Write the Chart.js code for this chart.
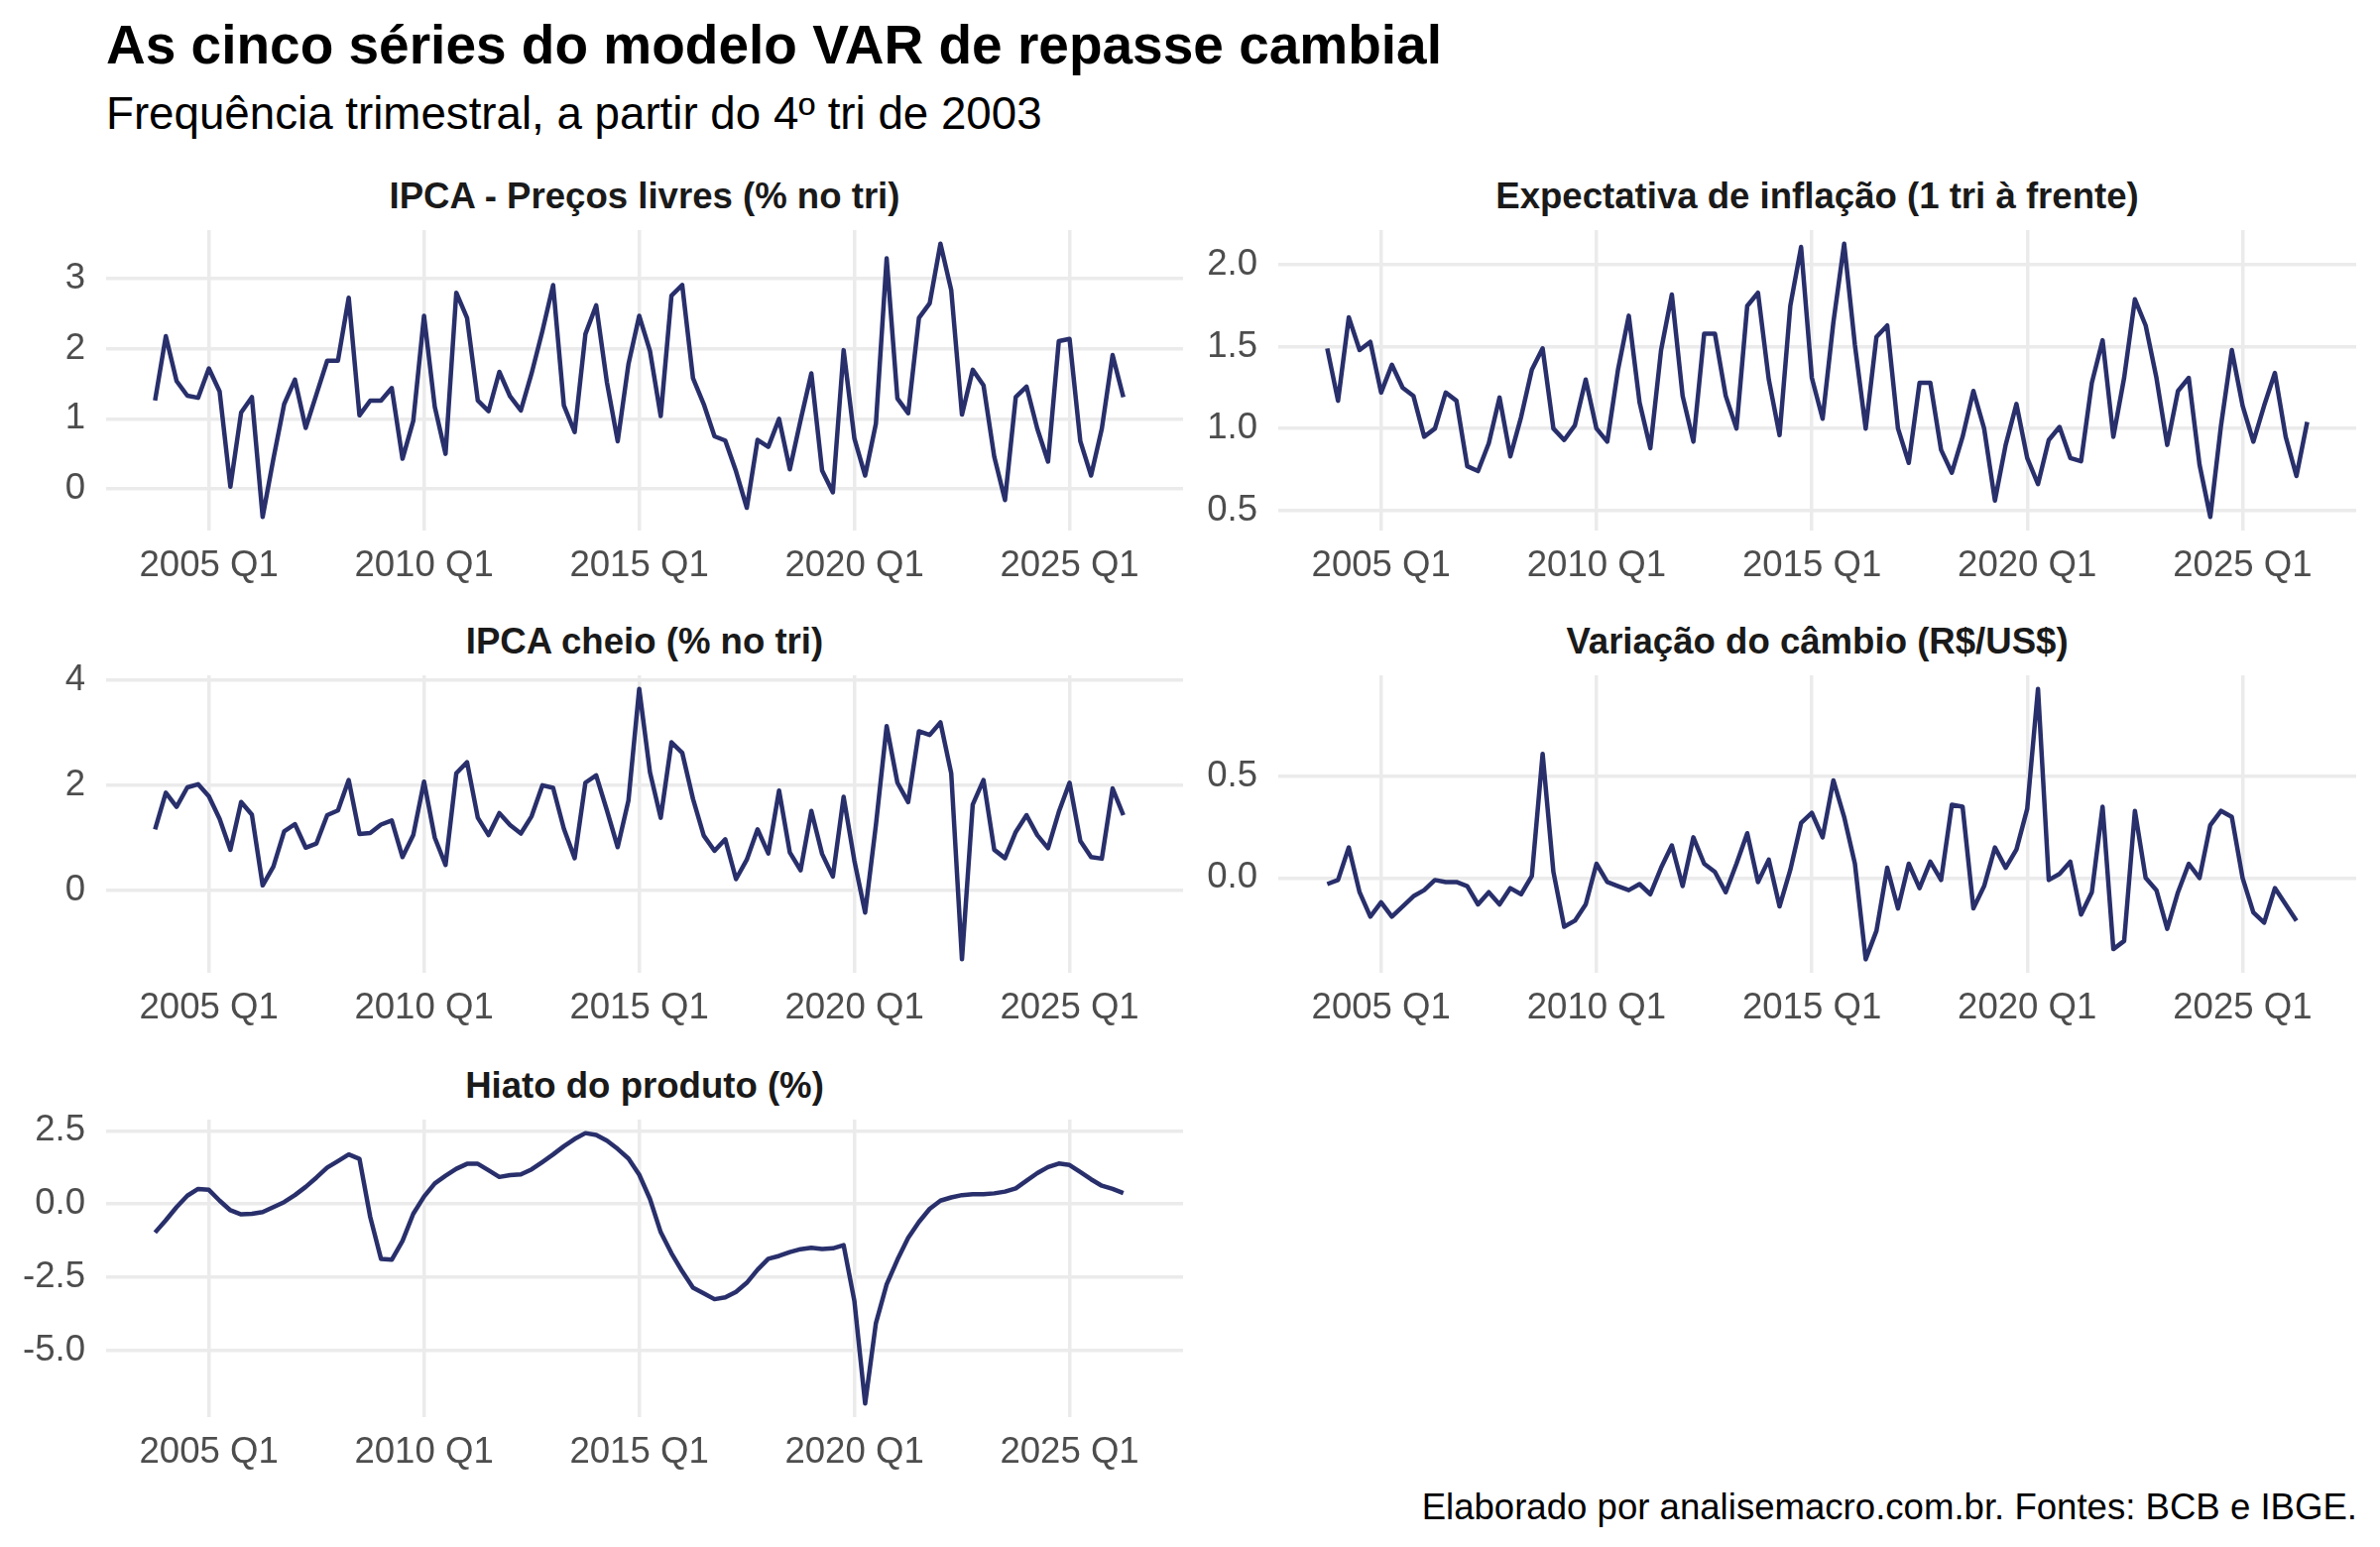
<!DOCTYPE html>
<html lang="pt-BR">
<head>
<meta charset="utf-8">
<title>As cinco séries do modelo VAR de repasse cambial</title>
<script src="https://cdn.jsdelivr.net/npm/chart.js@4.4.1/dist/chart.umd.min.js"></script>
<style>
  html, body { margin: 0; padding: 0; background: #fff; }
  body { width: 2400px; height: 1560px; position: relative; overflow: hidden;
         font-family: "Liberation Sans", Arial, sans-serif; }
  .txt { position: absolute; white-space: nowrap; line-height: 1; }
  #title { left: 107px; top: 18px; font-size: 55px; font-weight: bold; color: #000; }
  #subtitle { left: 107px; top: 92px; font-size: 45.7px; color: #000; }
  #caption { right: 23px; top: 1502px; font-size: 36.6px; color: #000; }
  .strip { position: absolute; text-align: center; font-size: 36.6px; font-weight: bold;
           color: #1a1a1a; line-height: 1; white-space: nowrap; }
  canvas { position: absolute; }
</style>
</head>
<body>
<div id="title" class="txt">As cinco séries do modelo VAR de repasse cambial</div>
<div id="subtitle" class="txt">Frequência trimestral, a partir do 4º tri de 2003</div>
<div id="caption" class="txt">Elaborado por analisemacro.com.br. Fontes: BCB e IBGE.</div>
<div id="panels"></div>

<script>
// Quarters 2003 Q4 .. 2026 Q3 (the expectation series runs one quarter further)
const quarters = [
  '2003 Q4',
  '2004 Q1', '2004 Q2', '2004 Q3', '2004 Q4',
  '2005 Q1', '2005 Q2', '2005 Q3', '2005 Q4',
  '2006 Q1', '2006 Q2', '2006 Q3', '2006 Q4',
  '2007 Q1', '2007 Q2', '2007 Q3', '2007 Q4',
  '2008 Q1', '2008 Q2', '2008 Q3', '2008 Q4',
  '2009 Q1', '2009 Q2', '2009 Q3', '2009 Q4',
  '2010 Q1', '2010 Q2', '2010 Q3', '2010 Q4',
  '2011 Q1', '2011 Q2', '2011 Q3', '2011 Q4',
  '2012 Q1', '2012 Q2', '2012 Q3', '2012 Q4',
  '2013 Q1', '2013 Q2', '2013 Q3', '2013 Q4',
  '2014 Q1', '2014 Q2', '2014 Q3', '2014 Q4',
  '2015 Q1', '2015 Q2', '2015 Q3', '2015 Q4',
  '2016 Q1', '2016 Q2', '2016 Q3', '2016 Q4',
  '2017 Q1', '2017 Q2', '2017 Q3', '2017 Q4',
  '2018 Q1', '2018 Q2', '2018 Q3', '2018 Q4',
  '2019 Q1', '2019 Q2', '2019 Q3', '2019 Q4',
  '2020 Q1', '2020 Q2', '2020 Q3', '2020 Q4',
  '2021 Q1', '2021 Q2', '2021 Q3', '2021 Q4',
  '2022 Q1', '2022 Q2', '2022 Q3', '2022 Q4',
  '2023 Q1', '2023 Q2', '2023 Q3', '2023 Q4',
  '2024 Q1', '2024 Q2', '2024 Q3', '2024 Q4',
  '2025 Q1', '2025 Q2', '2025 Q3', '2025 Q4',
  '2026 Q1', '2026 Q2', '2026 Q3'
];

const ipcaLivres = [
  1.26, 2.18, 1.54, 1.33, 1.30, 1.72, 1.39, 0.03, 1.09, 1.31,
  -0.40, 0.43, 1.21, 1.56, 0.87, 1.35, 1.83, 1.83, 2.73, 1.05,
  1.26, 1.26, 1.44, 0.43, 0.97, 2.47, 1.17, 0.50, 2.80, 2.44,
  1.26, 1.11, 1.67, 1.32, 1.12, 1.65, 2.25, 2.91, 1.19, 0.81,
  2.21, 2.62, 1.52, 0.68, 1.78, 2.47, 1.97, 1.04, 2.76, 2.91,
  1.58, 1.21, 0.75, 0.69, 0.25, -0.27, 0.70, 0.60, 1.00, 0.28,
  0.98, 1.65, 0.26, -0.05, 1.98, 0.72, 0.19, 0.93, 3.29, 1.29,
  1.08, 2.44, 2.65, 3.50, 2.84, 1.06, 1.70, 1.48, 0.46, -0.16,
  1.31, 1.46, 0.86, 0.39, 2.11, 2.14, 0.68, 0.19, 0.86, 1.91, 1.31
];

const expectativa = [
  1.49, 1.17, 1.68, 1.48, 1.53, 1.22, 1.39, 1.25, 1.20, 0.95,
  1.00, 1.22, 1.17, 0.77, 0.74, 0.91, 1.19, 0.83, 1.07, 1.36,
  1.49, 1.00, 0.93, 1.02, 1.30, 1.00, 0.92, 1.36, 1.69, 1.16,
  0.88, 1.48, 1.82, 1.20, 0.92, 1.58, 1.58, 1.20, 1.00, 1.75,
  1.83, 1.30, 0.96, 1.75, 2.11, 1.31, 1.06, 1.65, 2.13, 1.51,
  1.00, 1.56, 1.63, 1.00, 0.79, 1.28, 1.28, 0.87, 0.73, 0.95,
  1.23, 1.00, 0.56, 0.90, 1.15, 0.82, 0.66, 0.93, 1.01, 0.82,
  0.80, 1.28, 1.54, 0.95, 1.31, 1.79, 1.63, 1.31, 0.90, 1.23,
  1.31, 0.78, 0.46, 1.02, 1.48, 1.14, 0.92, 1.14, 1.34, 0.95, 0.71, 1.04
];

const ipcaCheio = [
  1.16, 1.86, 1.59, 1.96, 2.02, 1.79, 1.36, 0.77, 1.68, 1.44,
  0.09, 0.45, 1.12, 1.26, 0.81, 0.89, 1.43, 1.52, 2.10, 1.07,
  1.09, 1.25, 1.33, 0.63, 1.05, 2.07, 1.00, 0.48, 2.23, 2.44,
  1.38, 1.05, 1.47, 1.24, 1.08, 1.41, 2.00, 1.95, 1.17, 0.61,
  2.05, 2.19, 1.52, 0.82, 1.71, 3.84, 2.25, 1.38, 2.82, 2.62,
  1.74, 1.04, 0.75, 0.97, 0.21, 0.58, 1.16, 0.70, 1.90, 0.72,
  0.38, 1.51, 0.69, 0.26, 1.78, 0.56, -0.43, 1.24, 3.13, 2.05,
  1.68, 3.03, 2.96, 3.20, 2.23, -1.32, 1.63, 2.10, 0.77, 0.61,
  1.11, 1.43, 1.05, 0.80, 1.49, 2.05, 0.94, 0.63, 0.60, 1.94, 1.43
];

const cambio = [
  -0.03, -0.01, 0.15, -0.07, -0.19, -0.12, -0.19, -0.14, -0.09, -0.06,
  -0.01, -0.02, -0.02, -0.04, -0.13, -0.07, -0.13, -0.05, -0.08, 0.01,
  0.61, 0.03, -0.24, -0.21, -0.13, 0.07, -0.02, -0.04, -0.06, -0.03,
  -0.08, 0.05, 0.16, -0.04, 0.20, 0.07, 0.03, -0.07, 0.07, 0.22,
  -0.02, 0.09, -0.14, 0.04, 0.27, 0.32, 0.20, 0.48, 0.30, 0.07,
  -0.40, -0.26, 0.05, -0.15, 0.07, -0.05, 0.08, -0.01, 0.36, 0.35,
  -0.15, -0.04, 0.15, 0.05, 0.14, 0.34, 0.93, -0.01, 0.02, 0.08,
  -0.18, -0.07, 0.35, -0.35, -0.31, 0.33, 0.00, -0.06, -0.25, -0.07,
  0.07, 0.00, 0.26, 0.33, 0.30, 0.00, -0.17, -0.22, -0.05, -0.13, -0.21
];

const hiato = [
  -0.98, -0.56, -0.11, 0.28, 0.51, 0.48, 0.11, -0.22, -0.36, -0.34,
  -0.28, -0.11, 0.06, 0.30, 0.58, 0.90, 1.24, 1.46, 1.69, 1.54,
  -0.45, -1.88, -1.91, -1.27, -0.34, 0.25, 0.70, 0.96, 1.20, 1.37,
  1.37, 1.15, 0.92, 0.98, 1.01, 1.18, 1.43, 1.69, 1.97, 2.22,
  2.42, 2.36, 2.16, 1.88, 1.55, 1.00, 0.17, -0.97, -1.69, -2.31,
  -2.87, -3.06, -3.26, -3.20, -3.01, -2.70, -2.25, -1.88, -1.78, -1.65,
  -1.55, -1.50, -1.54, -1.52, -1.41, -3.32, -6.83, -4.08, -2.75, -1.91,
  -1.16, -0.62, -0.17, 0.11, 0.22, 0.30, 0.33, 0.33, 0.36, 0.42,
  0.53, 0.79, 1.05, 1.26, 1.38, 1.33, 1.09, 0.84, 0.62, 0.51, 0.37
];

// Tick labels
const xTickYears = [2005, 2010, 2015, 2020, 2025];
const yTicksLivres = [0, 1, 2, 3];
const yTicksExpect = [0.5, 1.0, 1.5, 2.0];
const yTicksCheio = [0, 2, 4];
const yTicksCambio = [0.0, 0.5];
const yTicksHiato = [-5.0, -2.5, 0.0, 2.5];

const LINE_COLOR = '#282f6b';
const GRID_COLOR = '#ebebeb';
const FONT = '"Liberation Sans", Arial, sans-serif';
const SMALL = 36.6;

// Plot-area geometry (panel boxes), kept apart from the data
const COLS = [[107, 1193], [1289, 2376]];
const ROWS = [[232, 535], [681, 981], [1129, 1429]];
const Y_AXIS_W = 107;
const X_AXIS_H = 70;
const PAD_TOP = 50;
const PAD_RIGHT = 12;

const panels = [
  { id: 'p1', title: 'IPCA - Preços livres (% no tri)', values: ipcaLivres, ticks: yTicksLivres, decimals: 0, col: 0, row: 0 },
  { id: 'p2', title: 'Expectativa de inflação (1 tri à frente)', values: expectativa, ticks: yTicksExpect, decimals: 1, col: 1, row: 0 },
  { id: 'p3', title: 'IPCA cheio (% no tri)', values: ipcaCheio, ticks: yTicksCheio, decimals: 0, col: 0, row: 1 },
  { id: 'p4', title: 'Variação do câmbio (R$/US$)', values: cambio, ticks: yTicksCambio, decimals: 1, col: 1, row: 1 },
  { id: 'p5', title: 'Hiato do produto (%)', values: hiato, ticks: yTicksHiato, decimals: 1, col: 0, row: 2 }
];

// '2003 Q4' -> 2003.75
function quarterToNum(label) {
  const [y, q] = label.split(' Q');
  return Number(y) + (Number(q) - 1) / 4;
}

const xs = quarters.map(quarterToNum);
// ggplot default expansion: 5% of the range on each side, shared x across facets
const xSpan = xs[xs.length - 1] - xs[0];
const X_MIN = xs[0] - 0.05 * xSpan;
const X_MAX = xs[xs.length - 1] + 0.05 * xSpan;

function renderPanel(p) {
  const [left, right] = COLS[p.col];
  const [top, bottom] = ROWS[p.row];
  const host = document.getElementById('panels');

  // facet strip title, centred over the panel
  const strip = document.createElement('div');
  strip.className = 'strip';
  strip.textContent = p.title;
  strip.style.left = left + 'px';
  strip.style.width = (right - left) + 'px';
  strip.style.top = (top - 21 - 31) + 'px';
  host.appendChild(strip);

  const canvas = document.createElement('canvas');
  const w = Y_AXIS_W + (right - left) + PAD_RIGHT;
  const h = PAD_TOP + (bottom - top) + X_AXIS_H;
  canvas.width = w;
  canvas.height = h;
  canvas.style.left = (left - Y_AXIS_W) + 'px';
  canvas.style.top = (top - PAD_TOP) + 'px';
  canvas.style.width = w + 'px';
  canvas.style.height = h + 'px';
  host.appendChild(canvas);

  const lo = Math.min(...p.values);
  const hi = Math.max(...p.values);
  const pad = 0.05 * (hi - lo);

  new Chart(canvas.getContext('2d'), {
    type: 'line',
    data: {
      datasets: [{
        data: p.values.map((v, i) => ({ x: xs[i], y: v })),
        borderColor: LINE_COLOR,
        borderWidth: 4.5,
        borderJoinStyle: 'round',
        borderCapStyle: 'butt',
        pointRadius: 0,
        tension: 0,
        fill: false
      }]
    },
    options: {
      responsive: false,
      animation: false,
      devicePixelRatio: 1,
      layout: { padding: { top: PAD_TOP, right: PAD_RIGHT, left: 0, bottom: 0 } },
      plugins: { legend: { display: false }, tooltip: { enabled: false } },
      scales: {
        x: {
          type: 'linear',
          bounds: 'data',
          min: X_MIN,
          max: X_MAX,
          afterBuildTicks: s => { s.ticks = xTickYears.map(v => ({ value: v })); },
          afterFit: s => { s.height = X_AXIS_H; },
          border: { display: false },
          grid: { color: GRID_COLOR, lineWidth: 3.5, drawTicks: false },
          ticks: {
            color: '#4d4d4d', font: { family: FONT, size: SMALL },
            padding: 14, maxRotation: 0, autoSkip: false,
            callback: v => v + ' Q1'
          }
        },
        y: {
          type: 'linear',
          bounds: 'data',
          min: lo - pad,
          max: hi + pad,
          afterBuildTicks: s => { s.ticks = p.ticks.map(v => ({ value: v })); },
          afterFit: s => { s.width = Y_AXIS_W; },
          border: { display: false },
          grid: { color: GRID_COLOR, lineWidth: 3.5, drawTicks: false },
          ticks: {
            color: '#4d4d4d', font: { family: FONT, size: SMALL },
            padding: 21, autoSkip: false,
            callback: v => Number(v).toFixed(p.decimals)
          }
        }
      }
    }
  });
}

panels.forEach(renderPanel);
</script>
</body>
</html>
